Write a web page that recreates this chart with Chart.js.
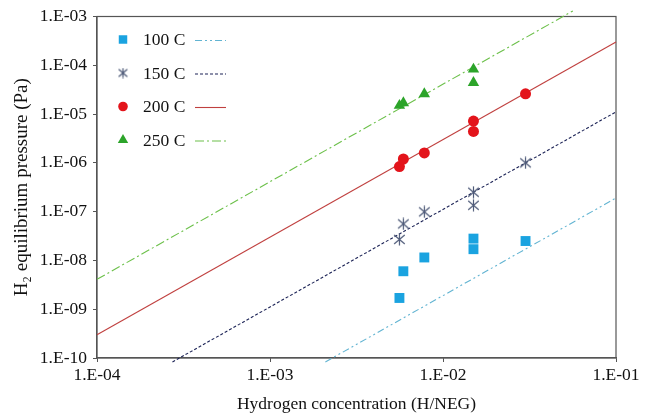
<!DOCTYPE html>
<html>
<head>
<meta charset="utf-8">
<script src="https://cdn.jsdelivr.net/npm/chart.js@4/dist/chart.umd.min.js"></script>
<style>
  html, body { margin: 0; padding: 0; background: #fff; }
  #wrap { width: 647px; height: 415px; position: relative; }
</style>
</head>
<body>
<div id="wrap"><canvas id="eqChart"></canvas></div>
<script>
// measured points (hydrogen concentration H/NEG vs pressure Pa)
const conc100 = [0.0056, 0.0059, 0.0078, 0.015, 0.015, 0.030];
const pres100 = [1.7e-9, 6.0e-9, 1.15e-8, 1.7e-8, 2.8e-8, 2.5e-8];
const conc150 = [0.0056, 0.0059, 0.0078, 0.015, 0.015, 0.030];
const pres150 = [2.7e-8, 5.6e-8, 9.9e-8, 1.35e-7, 2.5e-7, 1.0e-6];
const conc200 = [0.0056, 0.0059, 0.0078, 0.015, 0.015, 0.030];
const pres200 = [8.4e-7, 1.2e-6, 1.6e-6, 4.4e-6, 7.2e-6, 2.6e-5];
const conc250 = [0.0056, 0.0059, 0.0078, 0.015, 0.015];
const pres250 = [1.5e-5, 1.7e-5, 2.6e-5, 4.4e-5, 8.3e-5];

// Sieverts fit lines (end points)
const fitConc100 = [0.00209, 0.1];
const fitPres100 = [8.3e-11, 1.9e-7];
const fitConc150 = [2.73e-4, 0.1];
const fitPres150 = [8.3e-11, 1.11e-5];
const fitConc200 = [1e-4, 0.1];
const fitPres200 = [3.0e-10, 3.0e-4];
const fitConc250 = [1e-4, 0.0563];
const fitPres250 = [4.1e-9, 1.3e-3];

const seriesLabels = ["100 C", "150 C", "200 C", "250 C"];

const xTickValues = [1e-4, 1e-3, 1e-2, 1e-1];
const xTickLabels = ["1.E-04", "1.E-03", "1.E-02", "1.E-01"];
const yTickValues = [1e-10, 1e-9, 1e-8, 1e-7, 1e-6, 1e-5, 1e-4, 1e-3];
const yTickLabels = ["1.E-10", "1.E-09", "1.E-08", "1.E-07", "1.E-06", "1.E-05", "1.E-04", "1.E-03"];

const FONT = "'Liberation Serif', 'Times New Roman', serif";

const toPoints = (xs, ys) => xs.map((x, i) => ({ x, y: ys[i] }));

// six-armed asterisk marker used for 150 C
const makeStar = (size) => {
  const c = document.createElement("canvas");
  c.width = size;
  c.height = size;
  const g = c.getContext("2d");
  const m = size / 2;
  g.strokeStyle = "#4e5a78";
  g.lineWidth = 1.2;
  g.beginPath();
  g.moveTo(m, 0.5); g.lineTo(m, size - 0.5);
  g.moveTo(1.2, size * 0.16); g.lineTo(size - 1.2, size * 0.84);
  g.moveTo(size - 1.2, size * 0.16); g.lineTo(1.2, size * 0.84);
  g.stroke();
  return c;
};
const starMark = makeStar(13);
const starLegend = makeStar(11);

const styles = [
  { mark: { pointStyle: "rect", radius: 7, legendRadius: 6, color: "#1aa3e0" }, line: { color: "#62b4d2", dash: [7, 3, 2, 3, 2, 3] } },
  { mark: { pointStyle: starMark, legendStyle: starLegend, radius: 7, color: "#4e5a78" }, line: { color: "#1c2356", dash: [3, 2] } },
  { mark: { pointStyle: "circle", radius: 5.5, legendRadius: 4.8, color: "#e3141b" }, line: { color: "#c0403f", dash: [] } },
  { mark: { pointStyle: "triangle", radius: 6.6, legendRadius: 6, color: "#2ca42a" }, line: { color: "#6cc04a", dash: [9, 3, 2, 3] } },
];

const pointSets = [
  toPoints(conc100, pres100),
  toPoints(conc150, pres150),
  toPoints(conc200, pres200),
  toPoints(conc250, pres250),
];
const fitSets = [
  toPoints(fitConc100, fitPres100),
  toPoints(fitConc150, fitPres150),
  toPoints(fitConc200, fitPres200),
  toPoints(fitConc250, fitPres250),
];

const datasets = [];
fitSets.forEach((pts, i) => {
  const s = styles[i].line;
  datasets.push({
    label: seriesLabels[i] + " fit",
    data: pts,
    showLine: true,
    borderColor: s.color,
    borderWidth: 1.1,
    borderDash: s.dash,
    pointRadius: 0,
    clip: false,
    order: 2,
  });
});
pointSets.forEach((pts, i) => {
  const m = styles[i].mark;
  datasets.push({
    label: seriesLabels[i],
    data: pts,
    showLine: false,
    pointStyle: m.pointStyle,
    pointRadius: m.radius,
    pointBackgroundColor: m.color,
    pointBorderColor: m.color,
    pointBorderWidth: 0,
    clip: false,
    order: 1,
  });
});

const framePlugin = {
  id: "frame",
  beforeDatasetsDraw(chart) {
    const { ctx, chartArea: a } = chart;
    ctx.save();
    ctx.strokeStyle = "#555";
    ctx.lineWidth = 1.2;
    ctx.strokeRect(a.left, a.top, a.right - a.left, a.bottom - a.top);
    ctx.restore();
  },
};

const legendPlugin = {
  id: "markLegend",
  afterDraw(chart) {
    const { ctx, chartArea: a } = chart;
    ctx.save();
    ctx.font = "17.5px " + FONT;
    ctx.textBaseline = "middle";
    seriesLabels.forEach((label, i) => {
      const y = a.top + 23 + i * 33.5;
      const m = styles[i].mark;
      const l = styles[i].line;
      ctx.fillStyle = m.color;
      ctx.strokeStyle = m.color;
      Chart.helpers.drawPoint(
        ctx,
        { pointStyle: m.legendStyle || m.pointStyle, radius: m.legendRadius || m.radius, rotation: 0, borderWidth: 0 },
        a.left + 26,
        y
      );
      ctx.fillStyle = "#111";
      ctx.fillText(label, a.left + 46, y + 1);
      ctx.strokeStyle = l.color;
      ctx.lineWidth = 1.1;
      ctx.setLineDash(l.dash);
      ctx.beginPath();
      ctx.moveTo(a.left + 98, y + 1);
      ctx.lineTo(a.left + 129, y + 1);
      ctx.stroke();
      ctx.setLineDash([]);
    });
    ctx.restore();
  },
};

new Chart(document.getElementById("eqChart"), {
  type: "scatter",
  data: { datasets },
  options: {
    responsive: true,
    maintainAspectRatio: false,
    animation: false,
    layout: { padding: { top: 16, right: 31, left: 0, bottom: 0 } },
    plugins: {
      legend: { display: false },
      tooltip: { enabled: false },
    },
    scales: {
      x: {
        type: "logarithmic",
        min: 1e-4,
        max: 1e-1,
        afterBuildTicks: (scale) => {
          scale.ticks = xTickValues.map((v) => ({ value: v }));
        },
        afterFit: (scale) => { scale.height = 57; },
        grid: { drawOnChartArea: false, tickLength: 4, color: "#555" },
        border: { display: true, color: "#555", width: 1.2 },
        ticks: {
          color: "#111",
          padding: 3,
          maxRotation: 0,
          font: { family: FONT, size: 17.5 },
          callback: (v) => xTickLabels[xTickValues.findIndex((t) => Math.abs(t - v) / t < 1e-6)],
        },
        title: {
          display: true,
          text: "Hydrogen concentration (H/NEG)",
          color: "#111",
          font: { family: FONT, size: 17.5 },
          padding: { top: 3, bottom: 0 },
        },
      },
      y: {
        type: "logarithmic",
        min: 1e-10,
        max: 1e-3,
        afterBuildTicks: (scale) => {
          scale.ticks = yTickValues.map((v) => ({ value: v }));
        },
        afterFit: (scale) => { scale.width = 97; },
        grid: { drawOnChartArea: false, tickLength: 4, color: "#555" },
        border: { display: true, color: "#555", width: 1.2 },
        ticks: {
          color: "#111",
          padding: 6,
          font: { family: FONT, size: 17.5 },
          callback: (v) => yTickLabels[yTickValues.findIndex((t) => Math.abs(t - v) / t < 1e-6)],
        },
        title: {
          display: true,
          text: "H\u2082 equilibrium pressure (Pa)",
          color: "#111",
          font: { family: FONT, size: 19 },
          padding: { top: 11, bottom: 0 },
        },
      },
    },
  },
  plugins: [framePlugin, legendPlugin],
});
</script>
</body>
</html>
